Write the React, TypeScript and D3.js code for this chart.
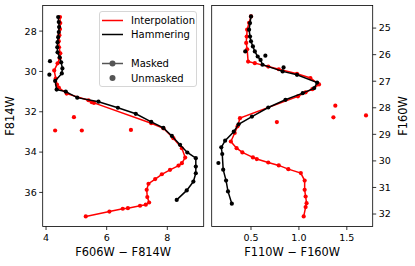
import * as d3 from 'd3';

// left panel: F606W - F814W vs F814W
const hamLeftX = [4.40, 4.42, 4.43, 4.42, 4.40, 4.38, 4.37, 4.38, 4.45, 4.50, 4.54, 4.52, 4.30, 4.35, 4.65, 5.03, 5.73, 6.37, 6.96, 7.47, 7.87, 8.15, 8.42, 8.66, 8.94, 8.94, 8.94, 8.86, 8.64, 8.31];
const hamLeftY = [27.30, 27.55, 27.80, 28.05, 28.30, 28.55, 28.80, 29.05, 29.30, 29.55, 29.85, 30.10, 30.47, 30.90, 31.00, 31.30, 31.50, 31.80, 32.10, 32.50, 32.80, 33.20, 33.64, 34.02, 34.30, 34.72, 35.05, 35.46, 35.90, 36.37];
const intLeftX = [4.46, 4.47, 4.46, 4.44, 4.42, 4.43, 4.47, 4.45, 4.38, 4.27, 4.32, 4.36, 4.42, 4.68, 5.40, 5.50, 5.58, 7.47, 7.87, 8.20, 8.48, 8.59, 8.48, 8.37, 8.09, 7.82, 7.60, 7.38, 7.32, 7.34, 7.40, 7.29, 7.10, 6.70, 6.53, 6.09, 5.31];
const intLeftY = [27.30, 27.60, 27.90, 28.20, 28.50, 28.80, 29.10, 29.35, 29.60, 29.95, 30.35, 30.65, 30.80, 31.10, 31.43, 31.52, 31.56, 32.57, 32.82, 33.31, 33.81, 34.27, 34.55, 34.67, 34.88, 35.10, 35.34, 35.57, 35.87, 36.23, 36.50, 36.61, 36.66, 36.78, 36.81, 36.95, 37.19];
const hamLeftOutX = [4.13, 4.11];
const hamLeftOutY = [29.49, 30.16];
const intLeftOutX = [4.30, 4.92, 5.18, 6.80];
const intLeftOutY = [32.93, 32.27, 32.93, 32.90];

// right panel: F110W - F160W vs F160W
const hamRightX = [0.50, 0.49, 0.48, 0.49, 0.50, 0.52, 0.54, 0.57, 0.60, 0.62, 0.83, 0.98, 1.19, 1.16, 1.04, 0.86, 0.68, 0.51, 0.37, 0.32, 0.23, 0.19, 0.20, 0.21, 0.24, 0.26, 0.30];
const hamRightY = [24.56, 24.81, 25.06, 25.32, 25.50, 25.69, 25.88, 26.07, 26.20, 26.38, 26.63, 26.76, 27.05, 27.26, 27.45, 27.70, 27.99, 28.33, 28.62, 28.90, 29.24, 29.49, 29.74, 30.33, 30.74, 31.15, 31.61];
const intRightX = [0.50, 0.48, 0.46, 0.455, 0.45, 0.46, 0.47, 0.54, 0.68, 0.79, 0.98, 1.12, 1.21, 1.14, 1.07, 0.99, 0.385, 0.36, 0.33, 0.29, 0.35, 0.41, 0.52, 0.56, 0.68, 0.79, 0.89, 1.02, 1.06, 1.06, 1.07, 1.08, 1.07, 1.05];
const intRightY = [24.56, 24.80, 25.06, 25.32, 25.56, 25.80, 26.26, 26.32, 26.45, 26.55, 26.72, 26.88, 27.12, 27.30, 27.42, 27.57, 28.39, 28.70, 28.95, 29.27, 29.52, 29.68, 29.87, 29.93, 30.06, 30.17, 30.31, 30.46, 30.74, 31.09, 31.34, 31.59, 31.74, 32.09];
const hamRightOutX = [0.44, 0.65, 0.84, 0.16];
const hamRightOutY = [25.88, 26.04, 26.48, 30.08];
const intRightOutX = [1.38, 1.36, 1.70, 0.77];
const intRightOutY = [27.92, 28.36, 28.29, 28.54];

const leftTicksX = [4, 6, 8];
const leftTicksY = [28, 30, 32, 34, 36];
const rightTicksX = [0.5, 1.0, 1.5];
const rightTicksY = [25, 26, 27, 28, 29, 30, 31, 32];

const RED = '#ff0000';
const FONT = 'DejaVu Sans, sans-serif';
const TOP = 5.5;
const BOTTOM = 226.5;

type Pt = [number, number];
const zip = (xs: number[], ys: number[]): Pt[] => xs.map((x, i) => [x, ys[i]]);

function Series({ pts, color, sx, sy, line }: { pts: Pt[]; color: string; sx: any; sy: any; line: boolean }) {
  const gen = d3.line<Pt>().x(d => sx(d[0])).y(d => sy(d[1]));
  return (
    <g>
      {line && <path d={gen(pts) || ''} fill="none" stroke={color} strokeWidth={1.5} />}
      {pts.map((d, i) => (
        <circle key={i} cx={sx(d[0])} cy={sy(d[1])} r={2.1} fill={color} />
      ))}
    </g>
  );
}

function Panel({ x0, x1, xDom, yDom, xTicks, yTicks, fmt, side, xLabel, yLabel, series }: any) {
  const sx = d3.scaleLinear().domain(xDom).range([x0, x1]);
  const sy = d3.scaleLinear().domain(yDom).range([TOP, BOTTOM]);
  const left = side === 'left';
  const ax = left ? x0 : x1;
  const dir = left ? -1 : 1;
  return (
    <g>
      {series.map((s: any, i: number) => (
        <Series key={i} pts={s.pts} color={s.color} sx={sx} sy={sy} line={s.line} />
      ))}
      <rect x={x0} y={TOP} width={x1 - x0} height={BOTTOM - TOP} fill="none" stroke="#000" strokeWidth={0.8} />
      {xTicks.map((t: number) => (
        <g key={t}>
          <line x1={sx(t)} x2={sx(t)} y1={BOTTOM} y2={BOTTOM + 3.5} stroke="#000" strokeWidth={0.8} />
          <text x={sx(t)} y={BOTTOM + 14} textAnchor="middle" fontSize={9.5} fontFamily={FONT}>{fmt(t)}</text>
        </g>
      ))}
      {yTicks.map((t: number) => (
        <g key={t}>
          <line x1={ax} x2={ax + dir * 3.5} y1={sy(t)} y2={sy(t)} stroke="#000" strokeWidth={0.8} />
          <text x={ax + dir * 6} y={sy(t) + 3.4} textAnchor={left ? 'end' : 'start'} fontSize={9.5} fontFamily={FONT}>{t}</text>
        </g>
      ))}
      <text x={(x0 + x1) / 2} y={256} textAnchor="middle" fontSize={11.4} fontFamily={FONT}>{xLabel}</text>
      <text transform={`translate(${left ? 14 : 407},${(TOP + BOTTOM) / 2}) rotate(-90)`} textAnchor="middle" fontSize={11.4} fontFamily={FONT}>{yLabel}</text>
    </g>
  );
}

function Legend() {
  const x = 99.5, y = 11.5, w = 97, h = 75;
  const rows = [
    { label: 'Interpolation', color: RED, line: true, marker: false, yy: 20.5 },
    { label: 'Hammering', color: '#000', line: true, marker: false, yy: 34.5 },
    { label: 'Masked', color: '#555', line: true, marker: true, yy: 63.5 },
    { label: 'Unmasked', color: '#555', line: false, marker: true, yy: 78 },
  ];
  return (
    <g>
      <rect x={x} y={y} width={w} height={h} rx={2.5} fill="#fff" fillOpacity={0.8} stroke="#ccc" strokeWidth={0.8} />
      {rows.map(r => (
        <g key={r.label}>
          {r.line && <line x1={102} x2={123} y1={r.yy} y2={r.yy} stroke={r.color} strokeWidth={1.5} />}
          {r.marker && <circle cx={112.5} cy={r.yy} r={3} fill={r.color} />}
          <text x={131} y={r.yy + 3.6} fontSize={10} fontFamily={FONT}>{r.label}</text>
        </g>
      ))}
    </g>
  );
}

export default function App() {
  const leftSeries = [
    { pts: zip(intLeftX, intLeftY), color: RED, line: true },
    { pts: zip(hamLeftX, hamLeftY), color: '#000', line: true },
    { pts: zip(intLeftOutX, intLeftOutY), color: RED, line: false },
    { pts: zip(hamLeftOutX, hamLeftOutY), color: '#000', line: false },
  ];
  const rightSeries = [
    { pts: zip(intRightX, intRightY), color: RED, line: true },
    { pts: zip(hamRightX, hamRightY), color: '#000', line: true },
    { pts: zip(intRightOutX, intRightOutY), color: RED, line: false },
    { pts: zip(hamRightOutX, hamRightOutY), color: '#000', line: false },
  ];
  return (
    <svg width={415} height={266} style={{ position: 'absolute', left: 0, top: 0, background: '#fff' }}>
      <Panel x0={42.7} x1={203.7} xDom={[3.89, 9.2]} yDom={[26.73, 37.69]} xTicks={leftTicksX} yTicks={leftTicksY}
        fmt={(t: number) => String(t)} side="left" xLabel="F606W − F814W" yLabel="F814W" series={leftSeries} />
      <Panel x0={211.7} x1={372.7} xDom={[0.09, 1.77]} yDom={[24.15, 32.47]} xTicks={rightTicksX} yTicks={rightTicksY}
        fmt={(t: number) => t.toFixed(1)} side="right" xLabel="F110W − F160W" yLabel="F160W" series={rightSeries} />
      <Legend />
    </svg>
  );
}
